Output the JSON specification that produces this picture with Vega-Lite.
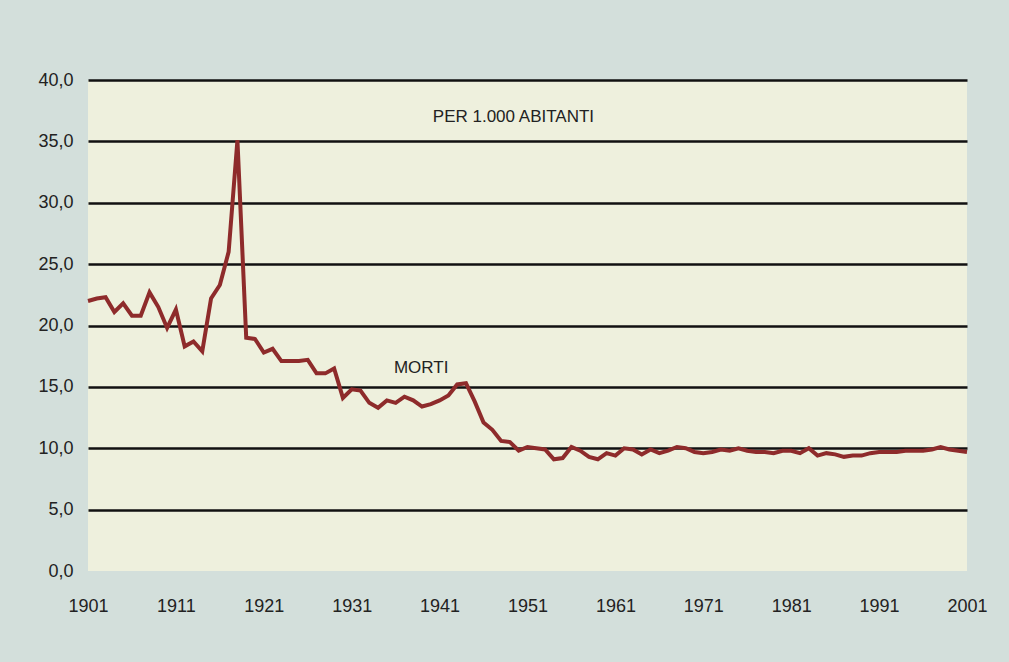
{
  "$schema": "https://vega.github.io/schema/vega-lite/v6.json",
  "autosize": {"type": "none"},
  "width": 879,
  "height": 491,
  "padding": {"left": 88, "top": 80, "right": 42, "bottom": 91},
  "background": "#d3dfdb",
  "config": {
    "view": {"fill": "#eef0dd", "stroke": null},
    "font": "Liberation Sans"
  },
  "datasets": {
    "morti": [
      {"anno": 1901, "tasso": 22.0}, {"anno": 1902, "tasso": 22.2}, {"anno": 1903, "tasso": 22.3},
      {"anno": 1904, "tasso": 21.1}, {"anno": 1905, "tasso": 21.8}, {"anno": 1906, "tasso": 20.8},
      {"anno": 1907, "tasso": 20.8}, {"anno": 1908, "tasso": 22.7}, {"anno": 1909, "tasso": 21.5},
      {"anno": 1910, "tasso": 19.8}, {"anno": 1911, "tasso": 21.3}, {"anno": 1912, "tasso": 18.3},
      {"anno": 1913, "tasso": 18.7}, {"anno": 1914, "tasso": 17.9}, {"anno": 1915, "tasso": 22.2},
      {"anno": 1916, "tasso": 23.3}, {"anno": 1917, "tasso": 26.0}, {"anno": 1918, "tasso": 35.1},
      {"anno": 1919, "tasso": 19.0}, {"anno": 1920, "tasso": 18.9}, {"anno": 1921, "tasso": 17.8},
      {"anno": 1922, "tasso": 18.1}, {"anno": 1923, "tasso": 17.1}, {"anno": 1924, "tasso": 17.1},
      {"anno": 1925, "tasso": 17.1}, {"anno": 1926, "tasso": 17.2}, {"anno": 1927, "tasso": 16.1},
      {"anno": 1928, "tasso": 16.1}, {"anno": 1929, "tasso": 16.5}, {"anno": 1930, "tasso": 14.1},
      {"anno": 1931, "tasso": 14.8}, {"anno": 1932, "tasso": 14.7}, {"anno": 1933, "tasso": 13.7},
      {"anno": 1934, "tasso": 13.3}, {"anno": 1935, "tasso": 13.9}, {"anno": 1936, "tasso": 13.7},
      {"anno": 1937, "tasso": 14.2}, {"anno": 1938, "tasso": 13.9}, {"anno": 1939, "tasso": 13.4},
      {"anno": 1940, "tasso": 13.6}, {"anno": 1941, "tasso": 13.9}, {"anno": 1942, "tasso": 14.3},
      {"anno": 1943, "tasso": 15.2}, {"anno": 1944, "tasso": 15.3}, {"anno": 1945, "tasso": 13.8},
      {"anno": 1946, "tasso": 12.1}, {"anno": 1947, "tasso": 11.5}, {"anno": 1948, "tasso": 10.6},
      {"anno": 1949, "tasso": 10.5}, {"anno": 1950, "tasso": 9.8}, {"anno": 1951, "tasso": 10.1},
      {"anno": 1952, "tasso": 10.0}, {"anno": 1953, "tasso": 9.9}, {"anno": 1954, "tasso": 9.1},
      {"anno": 1955, "tasso": 9.2}, {"anno": 1956, "tasso": 10.1}, {"anno": 1957, "tasso": 9.8},
      {"anno": 1958, "tasso": 9.3}, {"anno": 1959, "tasso": 9.1}, {"anno": 1960, "tasso": 9.6},
      {"anno": 1961, "tasso": 9.4}, {"anno": 1962, "tasso": 10.0}, {"anno": 1963, "tasso": 9.9},
      {"anno": 1964, "tasso": 9.5}, {"anno": 1965, "tasso": 9.9}, {"anno": 1966, "tasso": 9.6},
      {"anno": 1967, "tasso": 9.8}, {"anno": 1968, "tasso": 10.1}, {"anno": 1969, "tasso": 10.0},
      {"anno": 1970, "tasso": 9.7}, {"anno": 1971, "tasso": 9.6}, {"anno": 1972, "tasso": 9.7},
      {"anno": 1973, "tasso": 9.9}, {"anno": 1974, "tasso": 9.8}, {"anno": 1975, "tasso": 10.0},
      {"anno": 1976, "tasso": 9.8}, {"anno": 1977, "tasso": 9.7}, {"anno": 1978, "tasso": 9.7},
      {"anno": 1979, "tasso": 9.6}, {"anno": 1980, "tasso": 9.8}, {"anno": 1981, "tasso": 9.8},
      {"anno": 1982, "tasso": 9.6}, {"anno": 1983, "tasso": 10.0}, {"anno": 1984, "tasso": 9.4},
      {"anno": 1985, "tasso": 9.6}, {"anno": 1986, "tasso": 9.5}, {"anno": 1987, "tasso": 9.3},
      {"anno": 1988, "tasso": 9.4}, {"anno": 1989, "tasso": 9.4}, {"anno": 1990, "tasso": 9.6},
      {"anno": 1991, "tasso": 9.7}, {"anno": 1992, "tasso": 9.7}, {"anno": 1993, "tasso": 9.7},
      {"anno": 1994, "tasso": 9.8}, {"anno": 1995, "tasso": 9.8}, {"anno": 1996, "tasso": 9.8},
      {"anno": 1997, "tasso": 9.9}, {"anno": 1998, "tasso": 10.1}, {"anno": 1999, "tasso": 9.9},
      {"anno": 2000, "tasso": 9.8}, {"anno": 2001, "tasso": 9.7}
    ],
    "etichette": [
      {"anno": 1949.4, "tasso": 37.0, "testo": "PER 1.000 ABITANTI"},
      {"anno": 1938.9, "tasso": 16.5, "testo": "MORTI"}
    ]
  },
  "layer": [
    {
      "data": {"name": "morti"},
      "mark": {"type": "line", "color": "#8e2b2b", "strokeWidth": 4, "strokeJoin": "miter", "strokeMiterLimit": 3},
      "encoding": {
        "x": {
          "field": "anno", "type": "quantitative",
          "scale": {"domain": [1901, 2001], "nice": false, "zero": false},
          "axis": {
            "title": null, "values": [1901, 1911, 1921, 1931, 1941, 1951, 1961, 1971, 1981, 1991, 2001],
            "format": "d", "grid": false, "domain": false, "ticks": false, "labelFlush": false,
            "labelPadding": 26, "labelFontSize": 18, "labelColor": "#222222", "labelFont": "Liberation Sans"
          }
        },
        "y": {
          "field": "tasso", "type": "quantitative",
          "scale": {"domain": [0, 40], "nice": false},
          "axis": {
            "title": null, "values": [0, 5, 10, 15, 20, 25, 30, 35, 40],
            "labelExpr": "replace(format(datum.value, '.1f'), '.', ',')",
            "grid": true,
            "gridColor": {"condition": {"test": "datum.value === 0", "value": "transparent"}, "value": "#111111"},
            "gridWidth": 2.5, "labelFlush": false,
            "domain": false, "ticks": false,
            "labelPadding": 15, "labelFontSize": 18, "labelColor": "#222222", "labelFont": "Liberation Sans"
          }
        }
      }
    },
    {
      "data": {"name": "etichette"},
      "mark": {"type": "text", "fontSize": 17, "color": "#222222", "font": "Liberation Sans", "align": "center", "baseline": "middle"},
      "encoding": {
        "x": {"field": "anno", "type": "quantitative"},
        "y": {"field": "tasso", "type": "quantitative"},
        "text": {"field": "testo"}
      }
    }
  ]
}
